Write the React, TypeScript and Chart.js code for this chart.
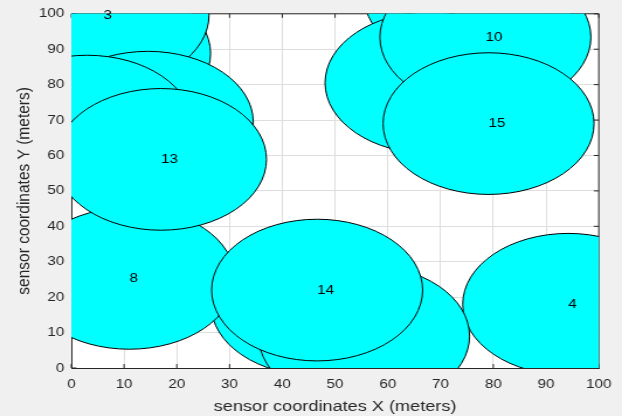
import { useEffect, useRef } from "react";
import { Chart, registerables } from "chart.js";

Chart.register(...registerables);

// ---- data ----
const sensorIds = [1, 2, 3, 4, 5, 6, 7, 8, 9, 10, 11, 13, 14, 15];
const sensorX = [6.4, 75.5, 6.1, 94.2, 14.5, 68.1, 46.5, 11.0, 55.5, 78.5, 3.0, 17.0, 46.6, 79.1];
const sensorY = [88.8, 105.0, 99.6, 18.0, 69.4, 80.5, 17.8, 25.3, 9.0, 93.4, 68.3, 58.9, 22.0, 69.0];
const sensingRadius = 20;
const xTickValues = [0, 10, 20, 30, 40, 50, 60, 70, 80, 90, 100];
const yTickValues = [0, 10, 20, 30, 40, 50, 60, 70, 80, 90, 100];
const xTitle = "sensor coordinates X (meters)";
const yTitle = "sensor coordinates Y (meters)";

const FONT = "'Liberation Sans', Arial, Helvetica, sans-serif";
const AXIS_COLOR = "#262626";
const FIG_W = 622;
const INNER_W = 532;
const FIG_H = 416;
const STRETCH = FIG_W / INNER_W;

const framePlugin = {
  id: "matlabFrame",
  beforeDraw(chart: any) {
    const { ctx, chartArea: a } = chart;
    ctx.save();
    ctx.fillStyle = "#ffffff";
    ctx.fillRect(a.left, a.top, a.right - a.left, a.bottom - a.top);
    ctx.restore();
  },
  beforeDatasetsDraw(chart: any) {
    const { ctx, chartArea: a, scales } = chart;
    const xs = scales.x;
    const ys = scales.y;
    ctx.save();
    ctx.strokeStyle = AXIS_COLOR;
    ctx.lineWidth = 1;
    ctx.beginPath();
    ctx.moveTo(a.left, a.top);
    ctx.lineTo(a.right, a.top);
    ctx.lineTo(a.right, a.bottom);
    ctx.stroke();
    const tv = 4;
    const th = 4.3;
    xTickValues.forEach((v) => {
      const px = xs.getPixelForValue(v);
      ctx.beginPath();
      ctx.moveTo(px, a.bottom);
      ctx.lineTo(px, a.bottom - tv);
      ctx.moveTo(px, a.top);
      ctx.lineTo(px, a.top + tv);
      ctx.stroke();
    });
    yTickValues.forEach((v) => {
      const py = ys.getPixelForValue(v);
      ctx.beginPath();
      ctx.moveTo(a.left, py);
      ctx.lineTo(a.left + th, py);
      ctx.moveTo(a.right, py);
      ctx.lineTo(a.right - th, py);
      ctx.stroke();
    });
    ctx.restore();
  },
  afterDatasetsDraw(chart: any) {
    const { ctx, chartArea: a, scales } = chart;
    const xs = scales.x;
    const ys = scales.y;
    sensorIds.forEach((id, i) => {
      const cx = xs.getPixelForValue(sensorX[i]);
      const cy = ys.getPixelForValue(sensorY[i]);
      const rx = Math.abs(xs.getPixelForValue(sensorX[i] + sensingRadius) - cx);
      const ry = Math.abs(ys.getPixelForValue(sensorY[i] + sensingRadius) - cy);
      ctx.save();
      ctx.beginPath();
      ctx.rect(a.left, a.top, a.right - a.left, a.bottom - a.top);
      ctx.clip();
      ctx.beginPath();
      ctx.ellipse(cx, cy, rx, ry, 0, 0, Math.PI * 2);
      ctx.fillStyle = "#00ffff";
      ctx.fill();
      ctx.strokeStyle = "#000000";
      ctx.lineWidth = 1;
      ctx.stroke();
      ctx.restore();
      ctx.save();
      ctx.font = `13px ${FONT}`;
      ctx.fillStyle = "#000000";
      ctx.textAlign = "left";
      ctx.textBaseline = "middle";
      ctx.fillText(String(id), cx, cy);
      ctx.restore();
    });
  },
};

export default function App() {
  const canvasRef = useRef<HTMLCanvasElement | null>(null);

  useEffect(() => {
    if (!canvasRef.current) return;
    const chart = new Chart(canvasRef.current, {
      type: "scatter",
      data: {
        datasets: [
          {
            label: "sensors",
            data: sensorX.map((x, i) => ({ x, y: sensorY[i] })),
            pointRadius: 0,
            pointHoverRadius: 0,
            showLine: false,
          },
        ],
      },
      options: {
        animation: false,
        responsive: true,
        maintainAspectRatio: false,
        events: [],
        layout: { padding: { top: 10, right: 17, bottom: 0, left: 0 } },
        plugins: {
          legend: { display: false },
          tooltip: { enabled: false },
          title: { display: false },
        },
        scales: {
          x: {
            type: "linear",
            min: 0,
            max: 100,
            afterBuildTicks: (s: any) => {
              s.ticks = xTickValues.map((v) => ({ value: v }));
            },
            afterFit: (s: any) => {
              s.height = 48;
            },
            ticks: {
              color: AXIS_COLOR,
              font: { family: FONT, size: 13 },
              padding: 9,
              maxRotation: 0,
              autoSkip: false,
            },
            grid: { color: "#dedede", lineWidth: 1, drawTicks: false },
            border: { display: true, color: AXIS_COLOR, width: 1 },
            title: {
              display: true,
              text: xTitle,
              color: AXIS_COLOR,
              font: { family: FONT, size: 15.5 },
              padding: { top: 0, bottom: 0 },
            },
          },
          y: {
            type: "linear",
            min: 0,
            max: 100,
            afterBuildTicks: (s: any) => {
              s.ticks = yTickValues.map((v) => ({ value: v }));
            },
            afterFit: (s: any) => {
              s.width = 61;
            },
            ticks: {
              color: AXIS_COLOR,
              font: { family: FONT, size: 13 },
              padding: 6,
              autoSkip: false,
            },
            grid: { color: "#dedede", lineWidth: 1, drawTicks: false },
            border: { display: true, color: AXIS_COLOR, width: 1 },
            title: {
              display: true,
              text: yTitle,
              color: AXIS_COLOR,
              font: { family: FONT, size: 15.5 },
              padding: { top: 11, bottom: 0 },
            },
          },
        },
      },
      plugins: [framePlugin],
    });
    return () => chart.destroy();
  }, []);

  return (
    <div
      style={{
        position: "absolute",
        left: 0,
        top: 0,
        width: FIG_W,
        height: FIG_H,
        background: "#f0f0f0",
        overflow: "hidden",
      }}
    >
      <div
        style={{
          position: "absolute",
          left: 0,
          top: 0,
          width: INNER_W,
          height: FIG_H,
          transform: `scaleX(${STRETCH})`,
          transformOrigin: "0 0",
        }}
      >
        <canvas ref={canvasRef} />
      </div>
    </div>
  );
}
